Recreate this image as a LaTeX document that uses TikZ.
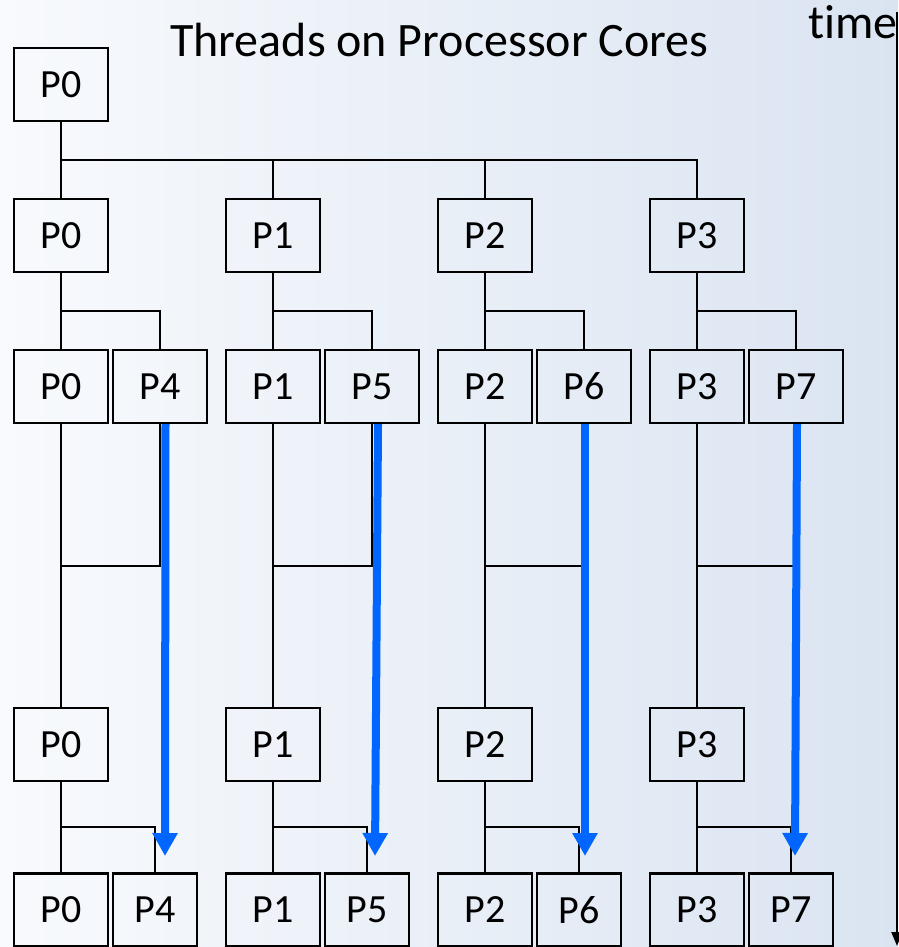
\documentclass[tikz,border=0pt]{standalone}
\usepackage{fontspec}
\setmainfont[Ligatures=NoCommon]{Carlito}
\usetikzlibrary{arrows.meta}

\definecolor{bgleft}{RGB}{248,250,253}
\definecolor{bgright}{RGB}{218,228,241}
\definecolor{flowblue}{RGB}{0,102,255}

\tikzset{
  proc/.style={draw=black, line width=2.4pt, rectangle, inner sep=0pt,
    minimum width=94pt, minimum height=73pt,
    font=\fontsize{40}{40}\selectfont},
  procnarrow/.style={proc, minimum width=84pt},
  link/.style={draw=black, line width=2pt},
  flow/.style={draw=flowblue, line width=8pt,
    -{Triangle[length=23pt,width=24pt]}},
  timeline/.style={draw=black, line width=2.4pt,
    -{Triangle[length=14pt,width=11pt]}},
  heading/.style={font=\fontsize{48}{48}\selectfont, inner sep=0pt}
}

\begin{document}
\begin{tikzpicture}[x=1pt, y=-1pt]
  % canvas with soft left-to-right gradient
  \useasboundingbox (0,0) rectangle (898,947);
  \shade[left color=bgleft, right color=bgright] (0,0) rectangle (898,947);

  % titles
  \node[heading, anchor=base west] (title) at (170,57) {Threads on Processor Cores};
  \node[heading, anchor=base west] (timelabel) at (808,39) {time};

  % time axis
  \coordinate (tstart) at (897,12);
  \coordinate (tend) at (897,946);
  \draw[timeline] (tstart) -- (tend);

  % initial thread
  \node[proc] (root) at (61,84.5) {P0};
  \coordinate (bus) at (61,160);
  \draw[link] (root.south) -- (bus);

  % one column per core
  \foreach \c/\m/\w in {0/0/4, 1/1/5, 2/2/6, 3/3/7} {
    \pgfmathsetmacro{\cx}{61+212*\c}
    \pgfmathsetmacro{\sx}{\cx+99}
    \pgfmathsetmacro{\nx}{\cx+94}
    \node[proc] (a\c) at (\cx,235.5) {P\m};
    \node[proc] (b\c) at (\cx,386.5) {P\m};
    \node[proc] (s\c) at (\sx,386.5) {P\w};
    \node[proc] (d\c) at (\cx,744.5) {P\m};
    \node[proc] (e\c) at (\cx,910) {P\m};
    \node[procnarrow] (f\c) at (\nx,910) {P\w};

    % fork from the top thread
    \draw[link] (bus) -| (a\c.north);

    % fork into two threads
    \coordinate (fork\c) at (\cx,311);
    \draw[link] (a\c.south) -- (b\c.north);
    \draw[link] (fork\c) -| (s\c.north);

    % join back into one thread
    \coordinate (join\c) at (\cx,566);
    \draw[link] (b\c.south) -- (d\c.north);
    \draw[link] (s\c.south) |- (join\c);

    % second fork
    \coordinate (fork2\c) at (\cx,827);
    \draw[link] (d\c.south) -- (e\c.north);
    \draw[link] (fork2\c) -| (f\c.north);
  }

  % long-running threads
  \coordinate (tip0) at (165,856);
  \coordinate (tip1) at (375,856);
  \coordinate (tip2) at (585,856);
  \coordinate (tip3) at (795,856);
  \draw[flow] ([xshift=5.5pt]s0.south) -- (tip0);
  \draw[flow] ([xshift=6pt]s1.south) -- (tip1);
  \draw[flow] ([xshift=1pt]s2.south) -- (tip2);
  \draw[flow] ([xshift=1pt]s3.south) -- (tip3);
\end{tikzpicture}
\end{document}
